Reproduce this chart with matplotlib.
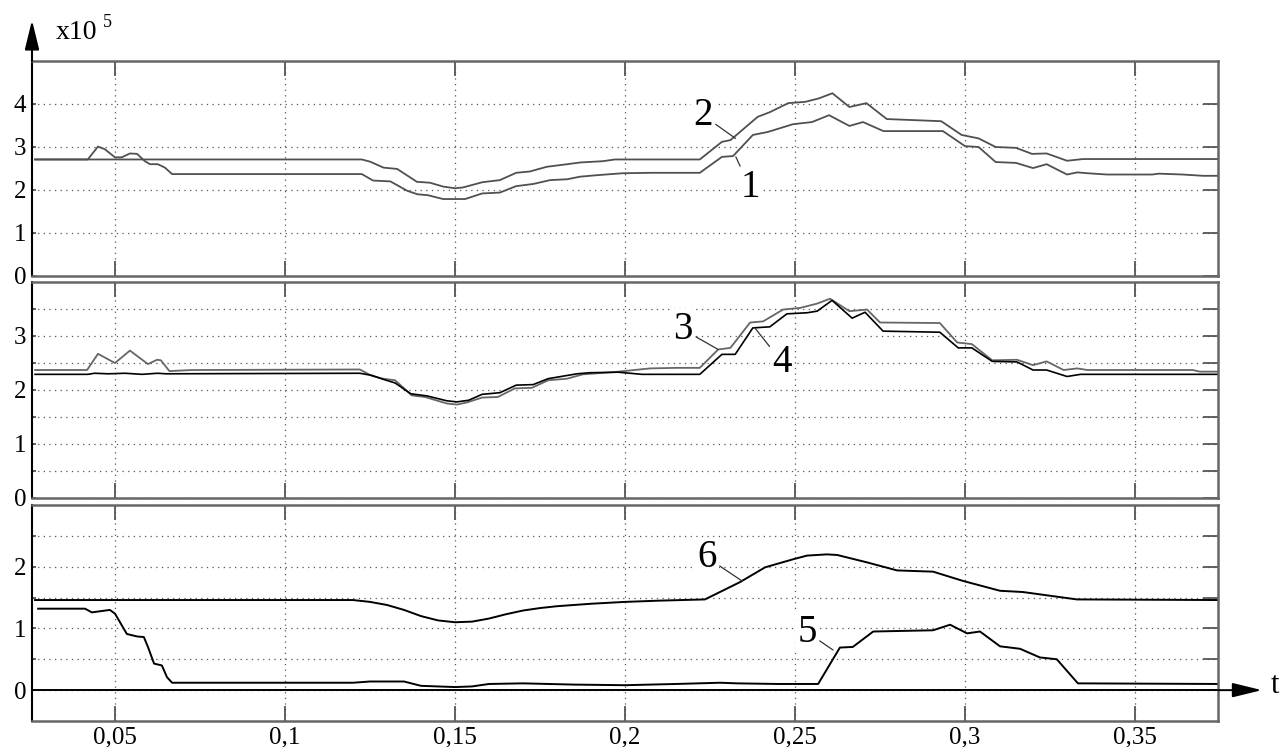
import matplotlib
matplotlib.use('Agg')
from matplotlib import pyplot as plt

plt.rcParams['font.family'] = ['Liberation Serif', 'DejaVu Serif']

# time axis
x_ticks = [0.05, 0.1, 0.15, 0.2, 0.25, 0.3, 0.35]
x_labels = ['0,05', '0,1', '0,15', '0,2', '0,25', '0,3', '0,35']

# upper panel: curves 1 and 2 (x10^5)
t1 = [0.0265, 0.042, 0.045, 0.047, 0.050, 0.052, 0.0544, 0.0565, 0.0588, 0.0603,
      0.0626, 0.0647, 0.0668, 0.070, 0.1226, 0.1259, 0.131, 0.136, 0.139, 0.142,
      0.1465, 0.153, 0.158, 0.1632, 0.168, 0.173, 0.178, 0.183, 0.1868, 0.1926,
      0.1994, 0.208, 0.222, 0.2285, 0.2318, 0.2376, 0.242, 0.2494, 0.255, 0.260,
      0.266, 0.270, 0.276, 0.2935, 0.300, 0.304, 0.309, 0.315, 0.320, 0.324,
      0.330, 0.333, 0.336, 0.3417, 0.355, 0.357, 0.364, 0.370, 0.3744]
v1 = [2.71, 2.71, 3.01, 2.95, 2.76, 2.76, 2.85, 2.84, 2.67, 2.60,
      2.60, 2.52, 2.37, 2.37, 2.37, 2.22, 2.20, 1.98, 1.90, 1.88,
      1.79, 1.79, 1.92, 1.94, 2.09, 2.14, 2.23, 2.25, 2.31, 2.35,
      2.39, 2.40, 2.40, 2.77, 2.79, 3.28, 3.35, 3.53, 3.58, 3.74,
      3.49, 3.58, 3.37, 3.37, 3.02, 3.00, 2.65, 2.63, 2.51, 2.60,
      2.36, 2.41, 2.39, 2.36, 2.36, 2.38, 2.36, 2.33, 2.33]

t2 = [0.0265, 0.1226, 0.125, 0.129, 0.133, 0.1388, 0.1426, 0.1465, 0.150, 0.1524,
      0.158, 0.1632, 0.168, 0.172, 0.177, 0.183, 0.1868, 0.1935, 0.197, 0.222,
      0.2285, 0.231, 0.239, 0.2426, 0.248, 0.253, 0.257, 0.261, 0.266, 0.271,
      0.277, 0.293, 0.299, 0.304, 0.309, 0.315, 0.3197, 0.324, 0.330, 0.3347,
      0.3744]
v2 = [2.71, 2.71, 2.66, 2.52, 2.49, 2.19, 2.17, 2.08, 2.04, 2.06,
      2.18, 2.23, 2.40, 2.43, 2.54, 2.60, 2.64, 2.67, 2.71, 2.71,
      3.12, 3.16, 3.70, 3.81, 4.02, 4.05, 4.13, 4.25, 3.93, 4.02,
      3.65, 3.60, 3.28, 3.20, 3.00, 2.98, 2.84, 2.85, 2.68, 2.72,
      2.72]

# middle panel: curves 3 and 4
t3 = [0.0265, 0.0418, 0.045, 0.050, 0.0544, 0.0597, 0.0624, 0.0635, 0.066, 0.0726,
      0.122, 0.1256, 0.1288, 0.1324, 0.1373, 0.1412, 0.1476, 0.1506, 0.1535, 0.158,
      0.1626, 0.1676, 0.1726, 0.1774, 0.183, 0.1876, 0.1965, 0.2074, 0.215, 0.222,
      0.2274, 0.231, 0.2368, 0.2406, 0.2465, 0.2515, 0.2565, 0.2603, 0.266, 0.2712,
      0.275, 0.2926, 0.2977, 0.302, 0.308, 0.3153, 0.320, 0.324, 0.329, 0.333,
      0.336, 0.367, 0.369, 0.3744]
v3 = [2.37, 2.37, 2.67, 2.50, 2.73, 2.48, 2.56, 2.55, 2.35, 2.37,
      2.38, 2.26, 2.21, 2.18, 1.90, 1.87, 1.75, 1.73, 1.77, 1.86,
      1.87, 2.03, 2.04, 2.18, 2.21, 2.29, 2.33, 2.40, 2.41, 2.41,
      2.75, 2.78, 3.25, 3.27, 3.49, 3.52, 3.60, 3.69, 3.46, 3.49,
      3.25, 3.24, 2.88, 2.85, 2.55, 2.56, 2.46, 2.53, 2.37, 2.40,
      2.37, 2.37, 2.34, 2.34]

t4 = [0.0265, 0.042, 0.044, 0.048, 0.053, 0.058, 0.0625, 0.065, 0.122, 0.1256,
      0.1288, 0.1324, 0.137, 0.1418, 0.1476, 0.1506, 0.154, 0.158, 0.1632, 0.168,
      0.173, 0.1774, 0.1859, 0.1897, 0.198, 0.205, 0.222, 0.2285, 0.2324, 0.2376,
      0.2426, 0.2476, 0.2535, 0.2565, 0.2609, 0.2668, 0.2706, 0.2759, 0.2926, 0.298,
      0.302, 0.308, 0.3153, 0.320, 0.324, 0.330, 0.334, 0.3744]
v4 = [2.29, 2.29, 2.31, 2.30, 2.31, 2.29, 2.31, 2.30, 2.31, 2.27,
      2.20, 2.13, 1.93, 1.89, 1.80, 1.78, 1.81, 1.92, 1.95, 2.09,
      2.10, 2.21, 2.30, 2.32, 2.33, 2.29, 2.29, 2.66, 2.66, 3.15,
      3.17, 3.41, 3.43, 3.46, 3.66, 3.33, 3.44, 3.09, 3.07, 2.78,
      2.78, 2.53, 2.52, 2.37, 2.37, 2.25, 2.29, 2.29]

# lower panel: curves 5 and 6
t5 = [0.0274, 0.0412, 0.0432, 0.0485, 0.050, 0.0535, 0.0565, 0.0585, 0.0597, 0.0615,
      0.0638, 0.0653, 0.0668, 0.120, 0.125, 0.135, 0.140, 0.150, 0.155, 0.160,
      0.170, 0.185, 0.200, 0.215, 0.228, 0.233, 0.245, 0.2568, 0.2632, 0.267,
      0.273, 0.2906, 0.2956, 0.3006, 0.3044, 0.3103, 0.3162, 0.322, 0.327, 0.3332,
      0.3744]
v5 = [1.32, 1.32, 1.26, 1.30, 1.24, 0.91, 0.87, 0.86, 0.70, 0.43,
      0.40, 0.21, 0.12, 0.12, 0.14, 0.14, 0.07, 0.05, 0.06, 0.10,
      0.11, 0.09, 0.08, 0.10, 0.12, 0.11, 0.10, 0.10, 0.69, 0.70,
      0.95, 0.97, 1.06, 0.92, 0.95, 0.71, 0.67, 0.53, 0.50, 0.11,
      0.10]

t6 = [0.0265, 0.120, 0.125, 0.130, 0.135, 0.140, 0.145, 0.150, 0.155, 0.160,
      0.165, 0.170, 0.175, 0.180, 0.190, 0.200, 0.210, 0.2235, 0.2338, 0.2412,
      0.2494, 0.2535, 0.2594, 0.2624, 0.2712, 0.280, 0.2906, 0.2994, 0.3103, 0.317,
      0.3329, 0.3744]
v6 = [1.46, 1.46, 1.43, 1.38, 1.30, 1.20, 1.13, 1.10, 1.11, 1.16,
      1.23, 1.29, 1.33, 1.36, 1.40, 1.43, 1.45, 1.47, 1.75, 1.99,
      2.12, 2.18, 2.20, 2.19, 2.07, 1.94, 1.92, 1.77, 1.61, 1.59,
      1.47, 1.46]

W, H = 1285, 747
fig = plt.figure(figsize=(W / 100, H / 100), dpi=100)


def box(left, top, right, bottom):
    return [left / W, 1 - bottom / H, (right - left) / W, (bottom - top) / H]


def style(ax, ylim, yticks, ylabels, show_x):
    ax.set_xlim(0.0256, 0.3744)
    ax.set_ylim(*ylim)
    ax.set_xticks(x_ticks)
    ax.set_xticklabels(x_labels if show_x else [])
    ax.set_yticks(yticks)
    ax.set_yticklabels(ylabels)
    ax.grid(True, linestyle=(0, (1, 3.5)), color='#555555', lw=0.9)
    ax.tick_params(direction='in', length=11, width=1.3, colors='#555555',
                   top=True, right=True, labelsize=18, pad=4,
                   labelbottom=show_x, labelcolor='black')
    for side in ('top', 'right', 'bottom'):
        ax.spines[side].set_color('#666666')
        ax.spines[side].set_linewidth(1.8)
    ax.spines['left'].set_color('black')
    ax.spines['left'].set_linewidth(1.5)
    for tk in ax.yaxis.get_major_ticks():
        tk.tick1line.set_markersize(3)


def label(ax, text, xy, xytext):
    ax.annotate(text, xy=xy, xytext=xytext, fontsize=28, ha='center', va='center',
                bbox=dict(boxstyle='square,pad=0.05', fc='white', ec='none'),
                arrowprops=dict(arrowstyle='-', lw=0.9, color='#333333',
                                shrinkA=1, shrinkB=0))


ax_top = fig.add_axes(box(32, 61, 1218, 276))
ax_mid = fig.add_axes(box(32, 282, 1218, 498))
ax_bot = fig.add_axes(box(32, 505, 1218, 721))

style(ax_top, (0, 5), [0, 1, 2, 3, 4], ['0', '1', '2', '3', '4'], False)
style(ax_mid, (0, 4), [0, 0.5, 1, 1.5, 2, 2.5, 3, 3.5],
      ['0', '', '1', '', '2', '', '3', ''], False)
style(ax_bot, (-0.5, 3), [0, 0.5, 1, 1.5, 2, 2.5],
      ['0', '', '1', '', '2', ''], True)

ax_top.plot(t1, v1, color='#505050', lw=1.3)
ax_top.plot(t2, v2, color='#505050', lw=1.3)
ax_mid.plot(t3, v3, color='#666666', lw=1.3)
ax_mid.plot(t4, v4, color='black', lw=1.2)
ax_bot.axhline(0, color='black', lw=1.4)
ax_bot.plot(t5, v5, color='black', lw=1.4)
ax_bot.plot(t6, v6, color='black', lw=1.4)

label(ax_top, '2', (0.2325, 3.2), (0.2229, 3.74))
label(ax_top, '1', (0.2326, 2.77), (0.2368, 2.05))
label(ax_mid, '3', (0.2274, 2.75), (0.2171, 3.12))
label(ax_mid, '4', (0.2382, 3.15), (0.2462, 2.51))
label(ax_bot, '6', (0.2344, 1.77), (0.2241, 2.15))
label(ax_bot, '5', (0.2612, 0.65), (0.2535, 0.94))

# vertical axis arrow and scale factor
ax_top.annotate('', xy=(0, 1.19), xycoords='axes fraction', xytext=(0, 1.0),
                annotation_clip=False,
                arrowprops=dict(arrowstyle='-|>,head_length=0.9,head_width=0.22',
                                color='black', lw=1.5, mutation_scale=20,
                                shrinkA=0, shrinkB=0))
fig.text(56 / W, 1 - 39 / H, 'x10', fontsize=20, va='baseline')
fig.text(103 / W, 1 - 27 / H, '5', fontsize=13, va='baseline')

# time axis arrow
ax_bot.annotate('', xy=(1.037, 0), xycoords=('axes fraction', 'data'),
                xytext=(1.0, 0), annotation_clip=False,
                arrowprops=dict(arrowstyle='-|>,head_length=0.9,head_width=0.22',
                                color='black', lw=1.4, mutation_scale=20,
                                shrinkA=0, shrinkB=0))
ax_bot.text(1.048, 0.08, 't', transform=ax_bot.get_yaxis_transform(),
            fontsize=22, ha='center', va='center')

fig.savefig('out.png', dpi=100)
